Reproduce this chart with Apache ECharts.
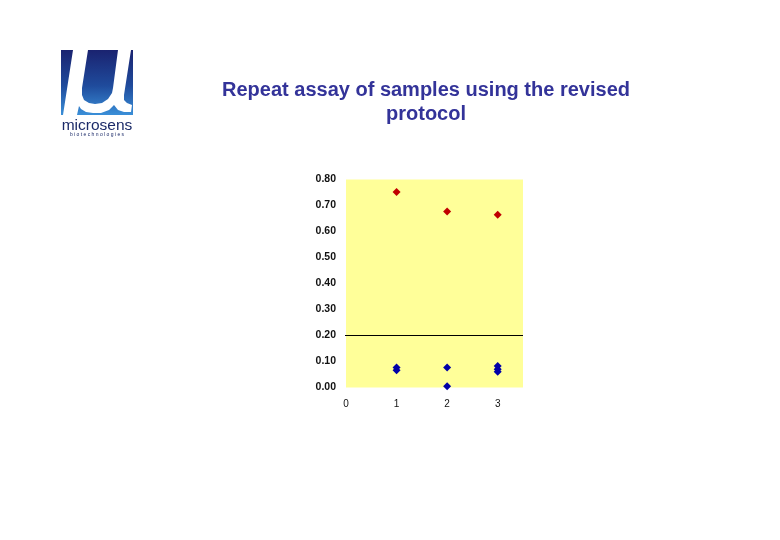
<!DOCTYPE html>
<html><head><meta charset="utf-8">
<script src="https://cdn.jsdelivr.net/npm/echarts@6/dist/echarts.min.js"></script>
<style>html,body{margin:0;padding:0;background:#fff}#c{width:780px;height:540px}</style>
</head><body><div id="c"></div>
<script>
var titleLines = ['Repeat assay of samples using the revised', 'protocol'];
var xTickLabels = ['0', '1', '2', '3'];
var positiveX = [1, 2, 3];
var positiveY = [0.752, 0.677, 0.664];
var negativeX = [1, 1, 2, 2, 3, 3, 3];
var negativeY = [0.077, 0.066, 0.077, 0.005, 0.083, 0.070, 0.061];
var cutoffX = [-0.1, 3.5];
var cutoffY = [0.2, 0.2];

function pairs(xs, ys){ return xs.map(function(x,i){ return [x, ys[i]]; }); }

var chart = echarts.init(document.getElementById('c'), null, {renderer:'canvas'});
var font = '"Liberation Sans", Arial, sans-serif';
var muShape = [[73,50],[88,50],[82,88],[82,95],[84,100],[89,103],[95,104],[102,103],[108,99],[112,93],[113,88],
  [118,50],[131,50],[124,95],[124,100],[127,103],[132,105],[131,112],[124,112],[118,110],[114,105],
  [109,110],[101,113],[93,113],[86,112],[81,109],[79,106],[77,115],[63,115]];
chart.setOption({
  animation:false,
  backgroundColor:'#ffffff',
  grid:{left:346, top:179.5, width:177, height:208, show:true, backgroundColor:'#ffff99', borderWidth:0, containLabel:false},
  xAxis:{type:'value', min:0, max:3.5, interval:1,
    axisLine:{show:false}, axisTick:{show:false}, splitLine:{show:false},
    axisLabel:{fontFamily:font, fontSize:10, color:'#111', margin:12,
      formatter:function(v){ var i = xTickLabels.indexOf(String(v)); return i>=0 ? xTickLabels[i] : ''; }}},
  yAxis:{type:'value', min:0, max:0.8, interval:0.1,
    axisLine:{show:false}, axisTick:{show:false}, splitLine:{show:false},
    axisLabel:{fontFamily:font, fontSize:10.5, fontWeight:'bold', color:'#111', margin:10,
      formatter:function(v){ return v.toFixed(2); }}},
  series:[
    {type:'line', data:pairs(cutoffX, cutoffY), symbol:'none', clip:false,
      lineStyle:{color:'#000000', width:1, opacity:1}, silent:true, emphasis:{disabled:true}},
    {type:'scatter', data:pairs(positiveX, positiveY), symbol:'diamond', symbolSize:8,
      itemStyle:{color:'#c00000', opacity:1}},
    {type:'scatter', data:pairs(negativeX, negativeY), symbol:'diamond', symbolSize:8,
      itemStyle:{color:'#0000a8', opacity:1}}
  ],
  graphic:[
    {type:'text', x:426, y:78, style:{text:titleLines.join('\n'), textAlign:'center',
      font:'bold 20px ' + font, fill:'#333399', lineHeight:24}},
    {type:'rect', shape:{x:61, y:50, width:72, height:65},
      style:{fill:new echarts.graphic.LinearGradient(0,0,0,1,[
        {offset:0, color:'#1a2370'},{offset:0.55, color:'#1f4b9c'},{offset:1, color:'#3a8fd8'}])}},
    {type:'polygon', shape:{points:muShape}, style:{fill:'#ffffff'}},
    {type:'text', x:97, y:118, style:{text:'microsens', textAlign:'center',
      font:'15.5px "Liberation Sans", Arial, sans-serif', fill:'#1b2a68'}},
    {type:'text', x:97, y:132, style:{text:'b i o t e c h n o l o g i e s', textAlign:'center',
      font:'5px "Liberation Sans", Arial, sans-serif', fill:'#1b2a68'}}
  ]
});
</script></body></html>
